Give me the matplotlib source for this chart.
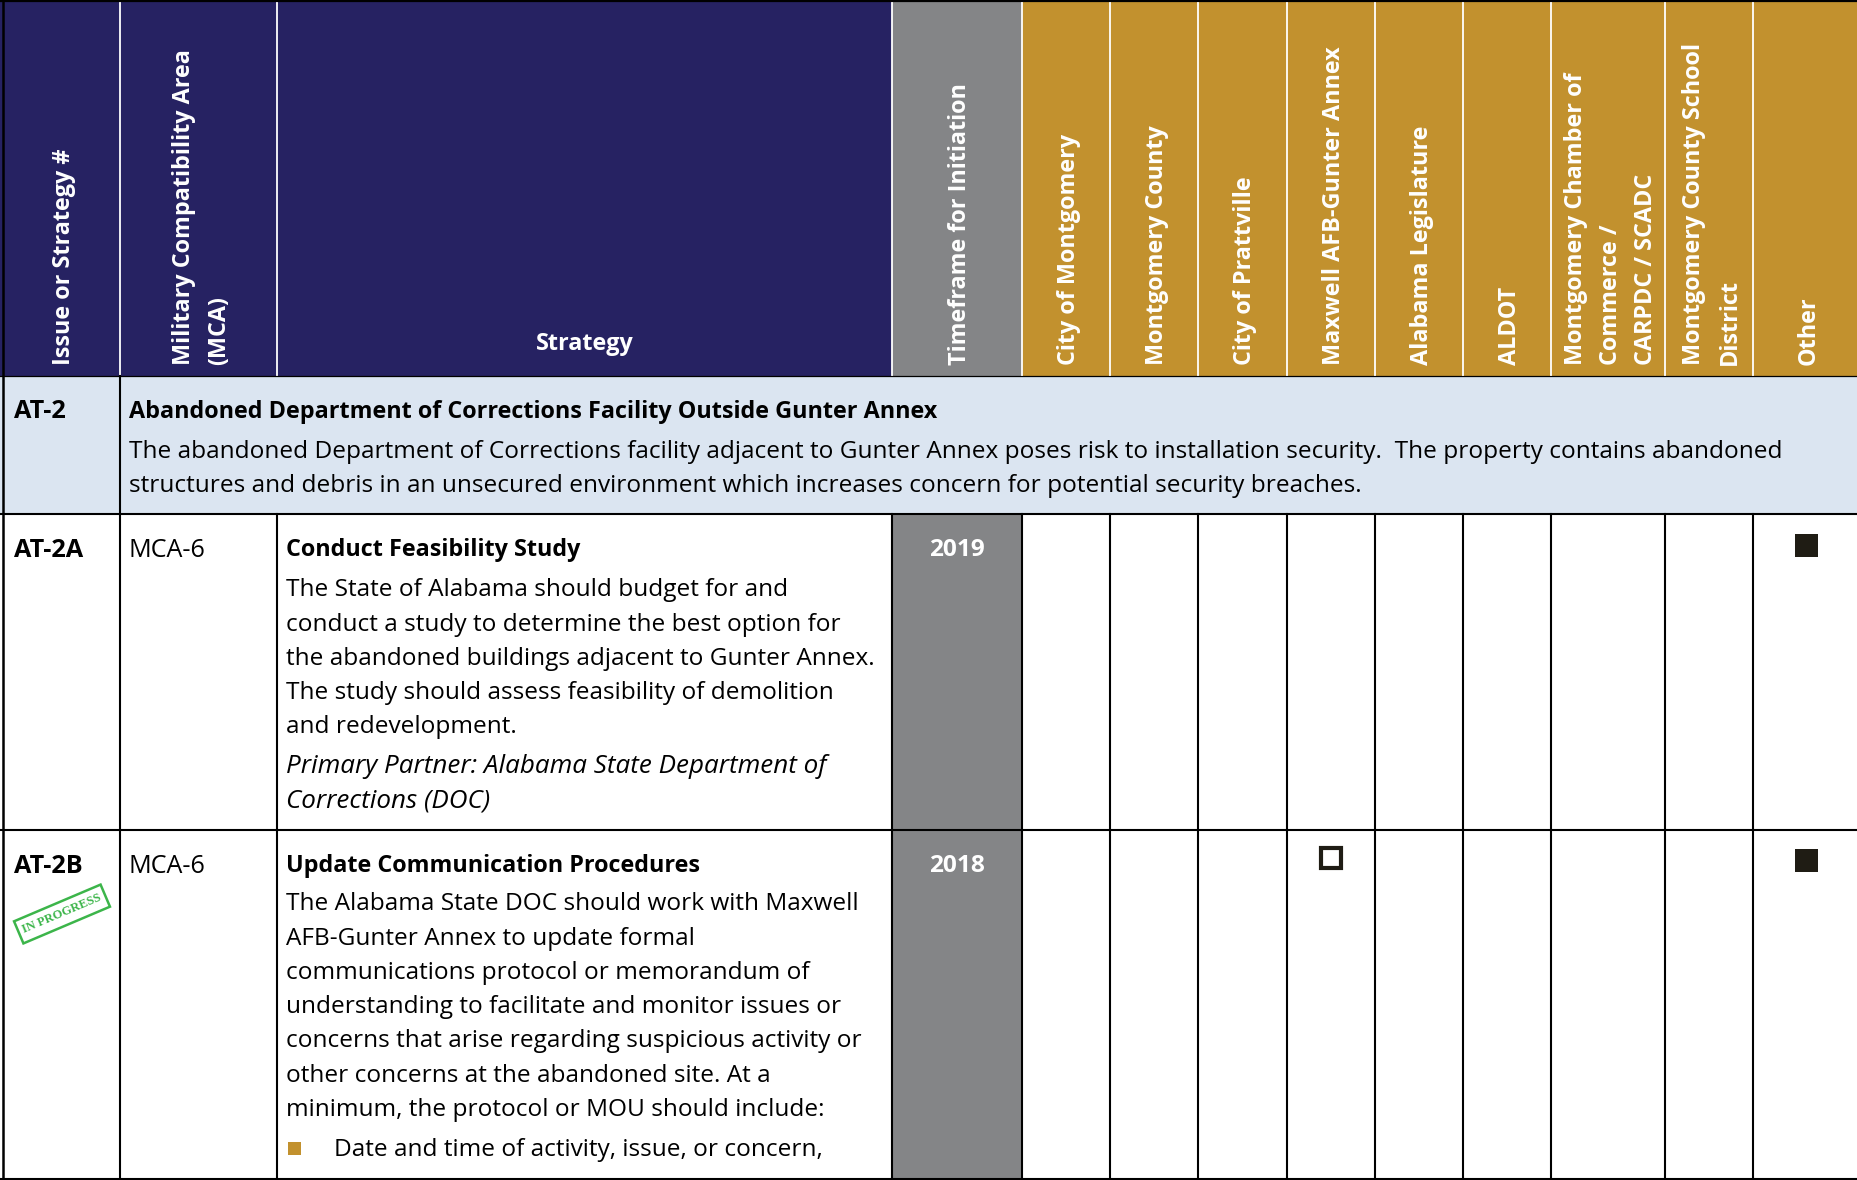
"""
Strategy table: header band, one issue row and two strategy rows with partner marks.
Everything is drawn in pixel coordinates of the 1858x1180 page.
"""
import matplotlib
matplotlib.use('Agg')
import matplotlib.pyplot as plt
from matplotlib.patches import Rectangle
from matplotlib.transforms import Affine2D

NAVY = "#262262"
GREY = "#848587"
GOLD = "#c2912e"
PALE = "#dbe5f1"
MARK = "#1f1c14"
STAMP = "#3cb54a"

W, H = 1858, 1180
FS = 17.6
FS_BOLD = 16.8

COL_X = [3, 120, 277, 892, 1022, 1110, 1198, 1287, 1375, 1463, 1551, 1665, 1753, 1858]
ROW_Y = [2, 376, 514, 830, 1180]

HEADERS_LEFT = [["Issue or Strategy #"], ["Military Compatibility Area", "(MCA)"]]
HEADER_STRATEGY = "Strategy"
HEADER_TIME = "Timeframe for Initiation"
HEADERS_PARTNER = [
    ["City of Montgomery"], ["Montgomery County"], ["City of Prattville"],
    ["Maxwell AFB-Gunter Annex"], ["Alabama Legislature"], ["ALDOT"],
    ["Montgomery Chamber of", "Commerce /", "CARPDC / SCADC"],
    ["Montgomery County School", "District"], ["Other"],
]

ISSUE_ID = "AT-2"
ISSUE_TITLE = "Abandoned Department of Corrections Facility Outside Gunter Annex"
ISSUE_BODY = [
    "The abandoned Department of Corrections facility adjacent to Gunter Annex poses risk to installation security.  The property contains abandoned",
    "structures and debris in an unsecured environment which increases concern for potential security breaches.",
]

ROW_IDS = ["AT-2A", "AT-2B"]
ROW_MCA = ["MCA-6", "MCA-6"]
ROW_YEARS = ["2019", "2018"]
ROW_TITLES = ["Conduct Feasibility Study", "Update Communication Procedures"]
ROW_BODY = [
    ["The State of Alabama should budget for and",
     "conduct a study to determine the best option for",
     "the abandoned buildings adjacent to Gunter Annex.",
     "The study should assess feasibility of demolition",
     "and redevelopment."],
    ["The Alabama State DOC should work with Maxwell",
     "AFB-Gunter Annex to update formal",
     "communications protocol or memorandum of",
     "understanding to facilitate and monitor issues or",
     "concerns that arise regarding suspicious activity or",
     "other concerns at the abandoned site. At a",
     "minimum, the protocol or MOU should include:"],
]
ROW_PARTNER_NOTE = ["Primary Partner: Alabama State Department of", "Corrections (DOC)"]
ROW_BULLET = "Date and time of activity, issue, or concern,"
# (row, filled)
MARKS_OTHER = [0, 1]
MARKS_MAXWELL = [1]

plt.rcParams['font.family'] = ['Open Sans', 'DejaVu Sans']

fig = plt.figure(figsize=(W / 100, H / 100), dpi=100)
ax = fig.add_axes([0, 0, 1, 1])
ax.set_xlim(0, W)
ax.set_ylim(H, 0)
ax.axis('off')


def box(x0, y0, x1, y1, color):
    ax.add_patch(Rectangle((x0, y0), x1 - x0, y1 - y0, fc=color, ec='none', zorder=1))


def vheader(col, lines):
    # rotated header lines sit against the bottom of the band, left to right
    x0, x1 = COL_X[col], COL_X[col + 1]
    step = 35
    first = (x0 + x1) / 2 + 3 - step * (len(lines) - 1) / 2
    for i, line in enumerate(lines):
        ax.text(first + i * step, 365, line, rotation=90, ha='center', va='bottom',
                color='white', fontsize=FS_BOLD, fontweight='bold', zorder=4)


def line_text(x, y, s, **kw):
    ax.text(x, y, s, ha='left', va='center', fontsize=kw.pop('fontsize', FS),
            color=kw.pop('color', 'black'), zorder=4, **kw)


# fills
box(0, 0, COL_X[3], ROW_Y[1], NAVY)
box(COL_X[3], 0, COL_X[4], ROW_Y[1], GREY)
box(COL_X[4], 0, W, ROW_Y[1], GOLD)
box(0, ROW_Y[1], W, ROW_Y[2], PALE)
box(COL_X[3], ROW_Y[2], COL_X[4], H, GREY)

# rules
ax.plot([0, W], [1, 1], color='black', lw=1.6, zorder=3)
ax.plot([3.5, 3.5], [0, H], color='black', lw=1.8, zorder=3)
ax.plot([0, W], [ROW_Y[1], ROW_Y[1]], color='black', lw=0.9, zorder=3)
for y in ROW_Y[2:4]:
    ax.plot([0, W], [y, y], color='black', lw=1.5, zorder=3)
ax.plot([0, W], [H - 1, H - 1], color='black', lw=1.5, zorder=3)
for i, x in enumerate(COL_X[1:-1], start=1):
    ax.plot([x, x], [3, ROW_Y[1] - 1], color='white', lw=1.3, zorder=3)
    if i == 1:
        ax.plot([x, x], [ROW_Y[1], H], color='black', lw=1.5, zorder=3)
    else:
        ax.plot([x, x], [ROW_Y[2], H], color='black', lw=1.5, zorder=3)

# header text
vheader(0, HEADERS_LEFT[0])
vheader(1, HEADERS_LEFT[1])
ax.text((COL_X[2] + COL_X[3]) / 2, 344, HEADER_STRATEGY, ha='center', va='center',
        color='white', fontsize=FS_BOLD, fontweight='bold', zorder=4)
vheader(3, [HEADER_TIME])
for i, lines in enumerate(HEADERS_PARTNER):
    vheader(4 + i, lines)

# issue row
line_text(14, 411.5, ISSUE_ID, fontweight='bold', fontsize=18.2)
line_text(129, 411.5, ISSUE_TITLE, fontweight='bold', fontsize=FS_BOLD)
for i, line in enumerate(ISSUE_BODY):
    line_text(129, 451.5 + i * 34, line)

# strategy rows
TITLE_Y = [550.5, 866.5]
BODY_Y = [590.5, 904.5]
for r in range(2):
    line_text(14, TITLE_Y[r], ROW_IDS[r], fontweight='bold', fontsize=18.2)
    line_text(129, TITLE_Y[r], ROW_MCA[r], fontsize=18.1)
    line_text(286, TITLE_Y[r], ROW_TITLES[r], fontweight='bold', fontsize=FS_BOLD)
    ax.text((COL_X[3] + COL_X[4]) / 2, TITLE_Y[r], ROW_YEARS[r], ha='center', va='center',
            color='white', fontsize=FS, fontweight='bold', zorder=4)
    for i, line in enumerate(ROW_BODY[r]):
        line_text(286, BODY_Y[r] + i * 34.2, line)

for i, line in enumerate(ROW_PARTNER_NOTE):
    line_text(286, 766.5 + i * 34.2, line, style='italic', fontsize=18.7)

box(288, 1142, 301, 1155, GOLD)
line_text(334, 1150.5, ROW_BULLET)

# partner marks
MARK_Y = [545.5, 860.5]
for r in MARKS_OTHER:
    ax.add_patch(Rectangle((1795, MARK_Y[r] - 11.5), 23, 23, fc=MARK, ec='none', zorder=4))
for r in MARKS_MAXWELL:
    ax.add_patch(Rectangle((1321, 848), 20, 20, fc='white', ec=MARK, lw=3, zorder=4))

# in progress stamp
cx, cy = 62, 914
rot = Affine2D().rotate_deg_around(cx, cy, -23) + ax.transData
ax.add_patch(Rectangle((cx - 47, cy - 12), 94, 24, fc='none', ec=STAMP, lw=1.8,
                       transform=rot, zorder=4))
ax.text(cx, cy, "IN PROGRESS", ha='center', va='center', rotation=23, rotation_mode='anchor',
        color=STAMP, fontsize=9, fontweight='bold', family='Liberation Serif', zorder=5)

fig.savefig("out.png", dpi=100)
